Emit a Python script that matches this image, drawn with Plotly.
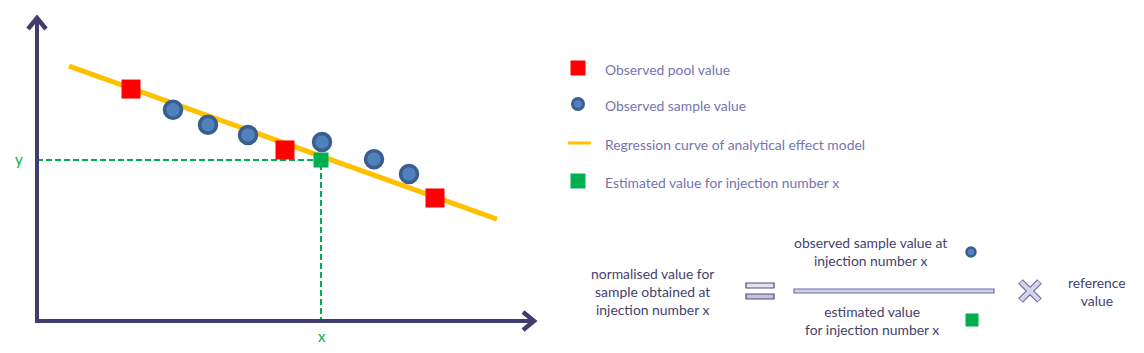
import plotly.graph_objects as go

W, H = 1144, 353

# ---- data (diagram units) ----
pool_x = [1.88, 4.96, 7.96]
pool_y = [7.58, 5.59, 4.02]
sample_x = [2.72, 3.42, 4.22, 5.70, 6.74, 7.44]
sample_y = [6.90, 6.41, 6.08, 5.85, 5.29, 4.80]
reg_x = [0.64, 9.20]
reg_y = [8.33, 3.33]
est_x = [5.68]
est_y = [5.26]

legend_labels = ["Observed pool value", "Observed sample value",
                 "Regression curve of analytical effect model",
                 "Estimated value for injection number x"]

AX = "#3F3D6E"
LEG = "#7674AE"
TXT = "#44426E"
GREEN = "#00B050"
RED = "#FF0000"
BLUE = "#4F81BD"
BLUE_L = "#395D8D"
YEL = "#FFC000"
FONT = "Lato"
FS = 13.9

# main plot pixel geometry
x0p, x1p = 37, 537
y0p, y1p = 321, 15

fig = go.Figure()

# regression line
fig.add_trace(go.Scatter(x=reg_x, y=reg_y, mode="lines",
                         line=dict(color=YEL, width=5), xaxis="x", yaxis="y",
                         hoverinfo="skip"))
# dashed projection lines
fig.add_trace(go.Scatter(x=[0, est_x[0], est_x[0]], y=[est_y[0], est_y[0], 0],
                         mode="lines", line=dict(color=GREEN, width=2, dash="6px,3px"),
                         xaxis="x", yaxis="y", hoverinfo="skip"))
# pools
fig.add_trace(go.Scatter(x=pool_x, y=pool_y, mode="markers",
                         marker=dict(symbol="square", size=19, color=RED,
                                     line=dict(width=0)),
                         xaxis="x", yaxis="y", cliponaxis=False))
# samples
fig.add_trace(go.Scatter(x=sample_x, y=sample_y, mode="markers",
                         marker=dict(symbol="circle", size=17, color=BLUE,
                                     line=dict(width=3.5, color=BLUE_L)),
                         xaxis="x", yaxis="y", cliponaxis=False))
# estimated
fig.add_trace(go.Scatter(x=est_x, y=est_y, mode="markers",
                         marker=dict(symbol="square", size=15, color=GREEN),
                         xaxis="x", yaxis="y", cliponaxis=False))

# ---- legend (pixel overlay) ----
leg_y = [68, 104, 143, 181]
fig.add_trace(go.Scatter(x=[578], y=[leg_y[0]], mode="markers",
                         marker=dict(symbol="square", size=15, color=RED),
                         xaxis="x2", yaxis="y2"))
fig.add_trace(go.Scatter(x=[578], y=[leg_y[1]], mode="markers",
                         marker=dict(symbol="circle", size=11, color=BLUE,
                                     line=dict(width=3, color=BLUE_L)),
                         xaxis="x2", yaxis="y2"))
fig.add_trace(go.Scatter(x=[568, 591], y=[leg_y[2], leg_y[2]], mode="lines",
                         line=dict(color=YEL, width=3), xaxis="x2", yaxis="y2"))
fig.add_trace(go.Scatter(x=[578], y=[leg_y[3]], mode="markers",
                         marker=dict(symbol="square", size=15, color=GREEN),
                         xaxis="x2", yaxis="y2"))

# formula markers
fig.add_trace(go.Scatter(x=[971], y=[252], mode="markers",
                         marker=dict(symbol="circle", size=9, color=BLUE,
                                     line=dict(width=2.5, color=BLUE_L)),
                         xaxis="x2", yaxis="y2"))
fig.add_trace(go.Scatter(x=[972], y=[320], mode="markers",
                         marker=dict(symbol="square", size=13, color=GREEN),
                         xaxis="x2", yaxis="y2"))
# multiplication sign: outlined thin X
fig.add_trace(go.Scatter(x=[1030], y=[291], mode="markers",
                         marker=dict(symbol="x-thin", size=19, color="#6E6CA4",
                                     line=dict(width=6.5, color="#6E6CA4")),
                         xaxis="x2", yaxis="y2"))
fig.add_trace(go.Scatter(x=[1030], y=[291], mode="markers",
                         marker=dict(symbol="x-thin", size=18, color="#D6D6E8",
                                     line=dict(width=4, color="#D6D6E8")),
                         xaxis="x2", yaxis="y2"))

shapes = []
# axes lines
shapes.append(dict(type="line", xref="x2", yref="y2", x0=x0p, y0=y0p + 2, x1=x0p, y1=y1p + 3,
                   line=dict(color=AX, width=4)))
shapes.append(dict(type="line", xref="x2", yref="y2", x0=x0p - 2, y0=y0p, x1=x1p - 3, y1=y0p,
                   line=dict(color=AX, width=4)))
# arrowheads
shapes.append(dict(type="path", xref="x2", yref="y2",
                   path=f"M {x0p-9},{y1p+14} L {x0p},{y1p+3} L {x0p+9},{y1p+14}",
                   line=dict(color=AX, width=4.5)))
shapes.append(dict(type="path", xref="x2", yref="y2",
                   path=f"M {x1p-14},{y0p-9} L {x1p-3},{y0p} L {x1p-14},{y0p+9}",
                   line=dict(color=AX, width=4.5)))
# equals sign
shapes.append(dict(type="rect", xref="x2", yref="y2", x0=746, x1=774, y0=283, y1=288,
                   fillcolor="#E4E4EE", line=dict(color="#4E4C88", width=1.2)))
shapes.append(dict(type="rect", xref="x2", yref="y2", x0=746, x1=774, y0=294, y1=299,
                   fillcolor="#C2C2DA", line=dict(color="#4E4C88", width=1.2)))
# fraction bar
shapes.append(dict(type="rect", xref="x2", yref="y2", x0=794, x1=994, y0=289, y1=293,
                   fillcolor="#D0D0E4", line=dict(color="#6E6CA4", width=1.2)))

ann = []
for yy, lab in zip(leg_y, legend_labels):
    ann.append(dict(x=603, y=yy + 1, xref="x2", yref="y2", text=lab, showarrow=False,
                    xanchor="left", yanchor="middle",
                    font=dict(family=FONT, size=FS, color=LEG)))

ann.append(dict(x=19, y=159, xref="x2", yref="y2", text="y", showarrow=False,
                font=dict(family=FONT, size=15, color=GREEN)))
ann.append(dict(x=322, y=336, xref="x2", yref="y2", text="x", showarrow=False,
                font=dict(family=FONT, size=15, color=GREEN)))

def block(cx, cy, text):
    ann.append(dict(x=cx, y=cy, xref="x2", yref="y2", text=text, showarrow=False,
                    xanchor="center", yanchor="middle", align="center",
                    font=dict(family=FONT, size=FS, color=TXT)))

block(652, 291, "normalised value for<br>sample obtained at<br>injection number x")
block(870, 251, "observed sample value at<br>injection number x")
block(872, 320, "estimated value<br>for injection number x")
block(1097, 291, "reference<br>value")

fig.update_layout(
    width=W, height=H, margin=dict(l=0, r=0, t=0, b=0),
    paper_bgcolor="white", plot_bgcolor="rgba(0,0,0,0)",
    showlegend=False, shapes=shapes, annotations=ann,
    xaxis=dict(domain=[x0p / W, x1p / W], range=[0, 10], visible=False, fixedrange=True),
    yaxis=dict(domain=[(H - y0p) / H, (H - y1p) / H], range=[0, 10], visible=False,
               fixedrange=True),
    xaxis2=dict(domain=[0, 1], range=[0, W], visible=False, anchor="y2", fixedrange=True),
    yaxis2=dict(domain=[0, 1], range=[H, 0], visible=False, anchor="x2", fixedrange=True),
)

fig.write_html("out.html")
